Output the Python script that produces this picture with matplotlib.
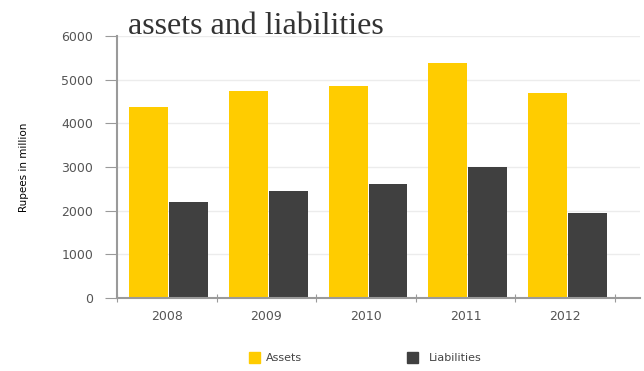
import numpy as np
import matplotlib.pyplot as plt

years = ['2008', '2009', '2010', '2011', '2012']
assets = [4370, 4730, 4850, 5380, 4700]
liabilities = [2200, 2450, 2600, 3000, 1950]

yellow = '#FFCC00'
dark = '#404040'
grey = '#9a9a9a'

fig = plt.figure(figsize=(6.44, 3.71), dpi=100)
ax = fig.add_axes([117 / 644, 1 - 298 / 371, (640 - 117) / 644, (298 - 36) / 371])

x = np.arange(len(years))
w = 0.39
ax.bar(x + 0.32, assets, w, color=yellow, zorder=2)
ax.bar(x + 0.72, liabilities, w, color=dark, zorder=2)

ax.set_ylim(0, 6000)
ax.set_xlim(0, 5.25)
ax.set_yticks(range(0, 6001, 1000))
ax.tick_params(axis='y', labelsize=9, colors='#555555', length=9, color=grey, pad=8)
ax.set_xticks(range(0, 6))
ax.set_xticklabels([])
ax.set_xticks(x + 0.5, minor=True)
ax.set_xticklabels(years, minor=True)
ax.tick_params(axis='x', which='major', length=6, color=grey, direction='inout')
ax.tick_params(axis='x', which='minor', length=0, labelsize=9, colors='#555555', pad=9)
ax.yaxis.grid(True, color='#ececec', lw=1, zorder=0)

for s in ['top', 'right']:
    ax.spines[s].set_visible(False)
ax.spines['left'].set_color(grey)
ax.spines['bottom'].set_color(grey)
ax.spines['left'].set_linewidth(1.5)
ax.spines['bottom'].set_linewidth(1.5)

ax.set_ylabel('Rupees in million', fontsize=7.5, labelpad=23)

fig.text(128 / 644, 1 - 27 / 371, 'assets and liabilities', family='Liberation Serif',
         fontsize=23, color='#333333', va='center')

# legend along the bottom
fig.patches.append(plt.Rectangle((249 / 644, 1 - 363 / 371), 11 / 644, 11 / 371,
                                 color=yellow, transform=fig.transFigure))
fig.text(266 / 644, 1 - 358 / 371, 'Assets', fontsize=8, color='#444444', va='center')
fig.patches.append(plt.Rectangle((407 / 644, 1 - 363 / 371), 11 / 644, 11 / 371,
                                 color=dark, transform=fig.transFigure))
fig.text(429 / 644, 1 - 358 / 371, 'Liabilities', fontsize=8, color='#444444', va='center')

fig.savefig('out.png', dpi=100)
